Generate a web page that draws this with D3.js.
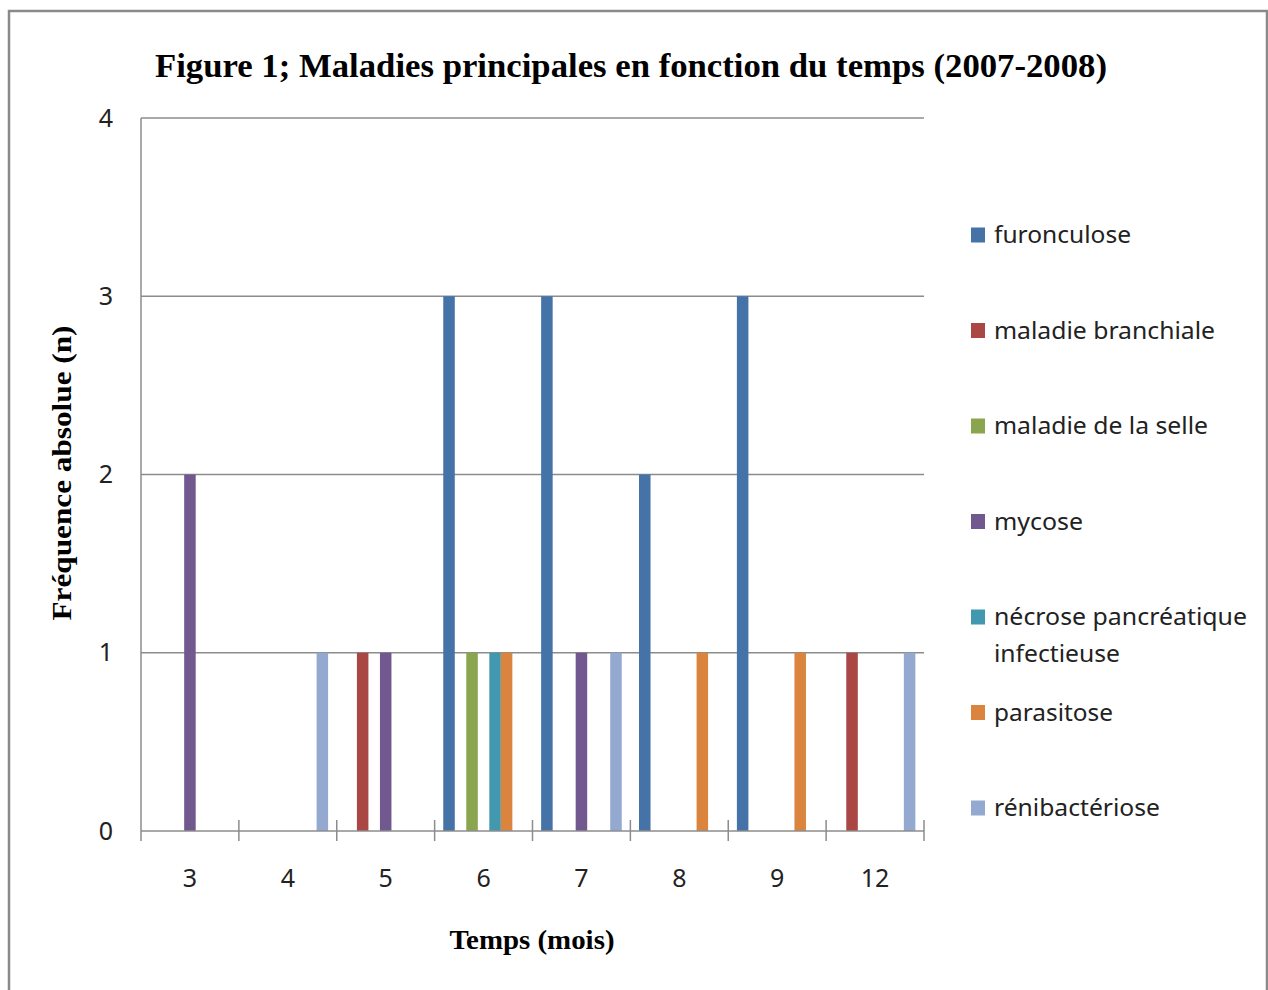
<!DOCTYPE html>
<html>
<head>
<meta charset="utf-8">
<script src="https://cdn.jsdelivr.net/npm/d3@7"></script>
<style>
  body { margin: 0; background: #fff; }
  svg { display: block; }
</style>
</head>
<body>
<div id="chart"></div>
<script>
// data
var months = ["3", "4", "5", "6", "7", "8", "9", "12"];
var diseases = ["furonculose", "maladie branchiale", "maladie de la selle", "mycose",
                "nécrose pancréatique infectieuse", "parasitose", "rénibactériose"];
var colors = ["#4572A7", "#AA4643", "#89A54E", "#71588F", "#4198AF", "#DB843D", "#93A9CF"];

var furonculose  = [0, 0, 0, 3, 3, 2, 3, 0];
var branchiale   = [0, 0, 1, 0, 0, 0, 0, 1];
var selle        = [0, 0, 0, 1, 0, 0, 0, 0];
var mycose       = [2, 0, 1, 0, 1, 0, 0, 0];
var necrose      = [0, 0, 0, 1, 0, 0, 0, 0];
var parasitose   = [0, 0, 0, 1, 0, 1, 1, 0];
var renibact     = [0, 1, 0, 0, 1, 0, 0, 1];
var seriesValues = [furonculose, branchiale, selle, mycose, necrose, parasitose, renibact];

var yTicks = [0, 1, 2, 3, 4];

var W = 1268, H = 990;
var svg = d3.select("#chart").append("svg").attr("width", W).attr("height", H);

// outer frame
svg.append("rect")
    .attr("x", 9).attr("y", 11).attr("width", 1258).attr("height", 990)
    .attr("fill", "#fff").attr("stroke", "#8a8a8a").attr("stroke-width", 2.5);

var plotL = 141, plotR = 924, plotT = 118, plotB = 831;

var x0 = d3.scaleBand().domain(months).range([plotL, plotR]).padding(0);
var bw = x0.bandwidth();
var barW = bw / 8.5;          // gap width 150%
var x1 = d3.scaleBand().domain(diseases).range([barW * 0.75, bw - barW * 0.75]).padding(0);
var y = d3.scaleLinear().domain([0, 4]).range([plotB, plotT]);
var color = d3.scaleOrdinal().domain(diseases).range(colors);

// gridlines
svg.append("g").selectAll("line").data(yTicks.filter(function(d) { return d > 0; }))
    .enter().append("line")
    .attr("x1", plotL).attr("x2", plotR)
    .attr("y1", function(d) { return y(d); }).attr("y2", function(d) { return y(d); })
    .attr("stroke", "#8c8c8c").attr("stroke-width", 1.5);

// y axis (no tick marks, line runs a little below 0)
var yAxis = svg.append("g").attr("transform", "translate(" + plotL + ",0)")
    .call(d3.axisLeft(y).tickValues(yTicks).tickFormat(d3.format("d")).tickSize(0).tickPadding(28));
yAxis.select(".domain").remove();
yAxis.selectAll(".tick text")
    .attr("font-family", "'Noto Sans', sans-serif").attr("font-size", 25).attr("fill", "#222");
svg.append("line").attr("x1", plotL).attr("x2", plotL).attr("y1", plotT).attr("y2", plotB + 10)
    .attr("stroke", "#8c8c8c").attr("stroke-width", 1.5);

// bars
var groups = svg.append("g").selectAll("g").data(months).enter().append("g")
    .attr("transform", function(m) { return "translate(" + x0(m) + ",0)"; });

groups.selectAll("rect")
    .data(function(m, i) {
        return diseases.map(function(d, k) { return { name: d, value: seriesValues[k][i] }; })
            .filter(function(d) { return d.value > 0; });
    })
    .enter().append("rect")
    .attr("x", function(d) { return x1(d.name); })
    .attr("width", x1.bandwidth())
    .attr("y", function(d) { return y(d.value); })
    .attr("height", function(d) { return plotB - y(d.value); })
    .attr("fill", function(d) { return color(d.name); });

// x axis line and cross ticks at group boundaries
svg.append("line").attr("x1", plotL).attr("x2", plotR).attr("y1", plotB).attr("y2", plotB)
    .attr("stroke", "#8c8c8c").attr("stroke-width", 1.5);
var bounds = months.map(function(m) { return x0(m); }).concat([plotR]);
svg.append("g").selectAll("line").data(bounds.slice(1)).enter().append("line")
    .attr("x1", function(d) { return d; }).attr("x2", function(d) { return d; })
    .attr("y1", plotB - 11)
    .attr("y2", plotB + 10)
    .attr("stroke", "#8c8c8c").attr("stroke-width", 1.5);

var xAxis = svg.append("g").attr("transform", "translate(0," + plotB + ")")
    .call(d3.axisBottom(x0).tickSize(0).tickPadding(38));
xAxis.select(".domain").remove();
xAxis.selectAll(".tick text")
    .attr("font-family", "'Noto Sans', sans-serif").attr("font-size", 25).attr("fill", "#222");

// titles
svg.append("text")
    .attr("x", 631).attr("y", 77)
    .attr("text-anchor", "middle")
    .attr("font-family", "'Liberation Serif', 'Times New Roman', serif")
    .attr("font-weight", "bold").attr("font-size", 33)
    .attr("textLength", 952).attr("lengthAdjust", "spacingAndGlyphs")
    .text("Figure 1; Maladies principales en fonction du temps (2007-2008)");

svg.append("text")
    .attr("x", 532).attr("y", 949)
    .attr("text-anchor", "middle")
    .attr("font-family", "'Liberation Serif', 'Times New Roman', serif")
    .attr("font-weight", "bold").attr("font-size", 27)
    .attr("textLength", 165).attr("lengthAdjust", "spacingAndGlyphs")
    .text("Temps (mois)");

svg.append("text")
    .attr("transform", "translate(71,473) rotate(-90)")
    .attr("text-anchor", "middle")
    .attr("font-family", "'Liberation Serif', 'Times New Roman', serif")
    .attr("font-weight", "bold").attr("font-size", 27)
    .attr("textLength", 295).attr("lengthAdjust", "spacingAndGlyphs")
    .text("Fréquence absolue (n)");

// legend
var legendY = d3.scalePoint().domain(diseases).range([235, 808]);
var legendLines = [["furonculose"], ["maladie branchiale"], ["maladie de la selle"], ["mycose"],
                   ["nécrose pancréatique", "infectieuse"], ["parasitose"], ["rénibactériose"]];
var legendWidths = [[137], [221], [214], [89], [253, 126], [119], [166]];

var legend = svg.append("g").selectAll("g").data(diseases).enter().append("g")
    .attr("transform", function(d) { return "translate(971," + legendY(d) + ")"; });

legend.append("rect")
    .attr("x", 0).attr("y", -7.5).attr("width", 14).attr("height", 15)
    .attr("fill", function(d) { return color(d); });

legend.each(function(d, i) {
    var g = d3.select(this);
    legendLines[i].forEach(function(line, j) {
        g.append("text")
            .attr("x", 23).attr("y", 8 + j * 37)
            .attr("font-family", "'Noto Sans', sans-serif").attr("font-size", 23)
            .attr("fill", "#222")
            .attr("textLength", legendWidths[i][j]).attr("lengthAdjust", "spacingAndGlyphs")
            .text(line);
    });
});
</script>
</body>
</html>
